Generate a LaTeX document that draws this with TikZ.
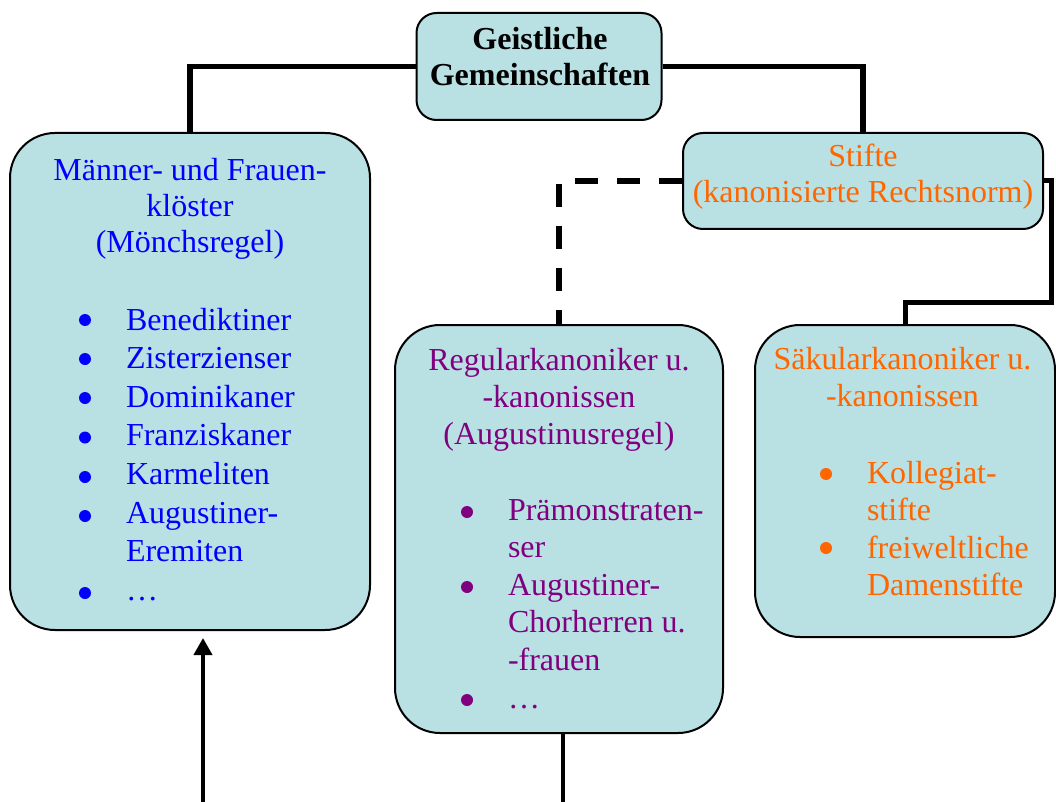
\documentclass[tikz,border=0pt]{standalone}
\usepackage{fontspec}
\setmainfont{Liberation Serif}
\usetikzlibrary{arrows.meta,backgrounds}
\definecolor{boxfill}{RGB}{185,224,227}
\definecolor{tblue}{RGB}{0,0,255}
\definecolor{tpurple}{RGB}{128,0,128}
\definecolor{torange}{RGB}{255,102,0}
\begin{document}
\begin{tikzpicture}[x=1pt,y=-1pt,
  box/.style={draw=black, line width=2pt, fill=boxfill, inner sep=0pt},
  conn/.style={draw=black, line width=5.5pt},
  txt/.style={inner sep=0pt, outer sep=0pt},
  bulletdot/.style={circle, inner sep=0pt, minimum size=12pt}]
\useasboundingbox (0,0) rectangle (1056,802);

% boxes
\node[box, minimum width=245pt, minimum height=107pt, rounded corners=20pt] (top) at (539,66.5) {};
\node[box, minimum width=360pt, minimum height=497pt, rounded corners=45pt] (left) at (190,381.5) {};
\node[box, minimum width=360pt, minimum height=96pt, rounded corners=20pt] (stifte) at (863,181) {};
\node[box, minimum width=328pt, minimum height=408pt, rounded corners=45pt] (regular) at (559,529) {};
\node[box, minimum width=300pt, minimum height=312pt, rounded corners=45pt] (sak) at (905,481) {};

% connectors (behind the boxes)
\coordinate (r1) at (1051,302);
\coordinate (a0) at (203,802);
\coordinate (a1) at (203,638);
\coordinate (b1) at (563,802);
\begin{scope}[on background layer]
\draw[conn] (top.west) -| (left.north);
\draw[conn] (top.east) -| (stifte.north);
\draw[conn, dash pattern=on 23pt off 19pt] (stifte.west) -| (regular.north);
\draw[conn, line width=5pt] (stifte.east) -| (r1) -| (sak.north);
\draw[line width=4pt] (regular.south -| b1) -- (b1);
\end{scope}
\draw[line width=4pt, -{Triangle[width=18pt,length=17pt]}] (a0) -- (a1);

% texts
\node[txt, anchor=base] (toptxt) at (540,50) {\fontsize{32}{36}\selectfont\bfseries
  \begin{tabular}[t]{@{}c@{}}Geistliche\\Gemeinschaften\end{tabular}};

\node[txt, anchor=base, text=tblue] (lefttitle) at (190,181) {\fontsize{32}{36}\selectfont
  \begin{tabular}[t]{@{}c@{}}Männer- und Frauen-\\klöster\\(Mönchsregel)\end{tabular}};
\node[txt, anchor=base west, text=tblue] (leftlist) at (126,330) {\fontsize{32}{38.6}\selectfont
  \begin{tabular}[t]{@{}l@{}}
  Benediktiner\\
  Zisterzienser\\
  Dominikaner\\
  Franziskaner\\
  Karmeliten\\
  Augustiner-\\
  Eremiten\\
  …
  \end{tabular}};
\foreach \y in {320,359,398,437.5,477,516,593}
  \node[bulletdot, fill=tblue] at (85,\y) {};

\node[txt, anchor=base, text=torange] (stiftetxt) at (863,167) {\fontsize{32}{36}\selectfont
  \begin{tabular}[t]{@{}c@{}}Stifte\\(kanonisierte Rechtsnorm)\end{tabular}};

\node[txt, anchor=base, text=tpurple] (regtitle) at (559,370) {\fontsize{32}{37}\selectfont
  \begin{tabular}[t]{@{}c@{}}Regularkanoniker u.\\-kanonissen\\(Augustinusregel)\end{tabular}};
\node[txt, anchor=base west, text=tpurple] (reglist) at (508,520) {\fontsize{32}{37.6}\selectfont
  \begin{tabular}[t]{@{}l@{}}
  Prämonstraten-\\
  ser\\
  Augustiner-\\
  Chorherren u.\\
  -frauen\\
  …
  \end{tabular}};
\foreach \y in {512,587,700}
  \node[bulletdot, fill=tpurple] at (467,\y) {};

\node[txt, anchor=base, text=torange] (saktitle) at (902.5,369) {\fontsize{32}{37}\selectfont
  \begin{tabular}[t]{@{}c@{}}Säkularkanoniker u.\\-kanonissen\end{tabular}};
\node[txt, anchor=base west, text=torange] (saklist) at (867,483) {\fontsize{32}{37.5}\selectfont
  \begin{tabular}[t]{@{}l@{}}
  Kollegiat-\\
  stifte\\
  freiweltliche\\
  Damenstifte
  \end{tabular}};
\foreach \y in {474,548}
  \node[bulletdot, fill=torange] at (826,\y) {};
\end{tikzpicture}
\end{document}
